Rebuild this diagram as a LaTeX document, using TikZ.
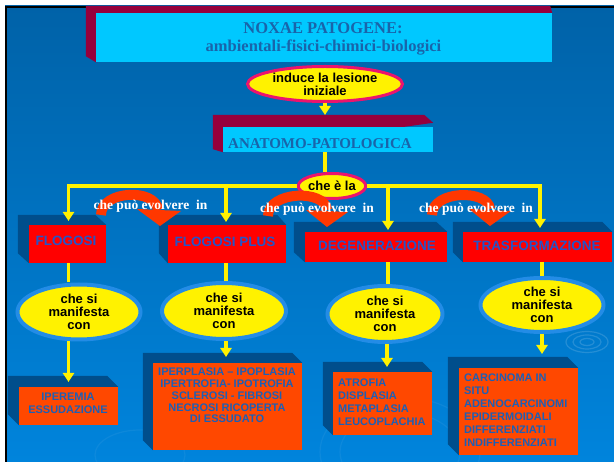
\documentclass[tikz,border=0pt]{standalone}
\usepackage{fontspec}
\setmainfont{Liberation Serif}
\newfontfamily\arialf{Liberation Sans}
\usetikzlibrary{arrows.meta,shapes.geometric}
\pgfdeclarelayer{bg}
\pgfdeclarelayer{background}
\pgfsetlayers{bg,background,main}
\definecolor{bgtop}{RGB}{0,98,168}
\definecolor{bgbot}{RGB}{0,132,220}
\definecolor{maroon3d}{RGB}{150,0,60}
\definecolor{cyanbox}{RGB}{0,200,255}
\definecolor{titletext}{RGB}{25,100,170}
\definecolor{shadowblue}{RGB}{0,78,140}
\definecolor{boxred}{RGB}{255,0,0}
\definecolor{boxorange}{RGB}{255,72,0}
\definecolor{boxtext}{RGB}{35,85,200}
\definecolor{lowtext}{RGB}{30,95,180}
\definecolor{crimsonb}{RGB}{235,20,110}
\definecolor{ellblue}{RGB}{35,140,230}
\definecolor{arcred}{RGB}{255,55,0}
\begin{document}
\begin{tikzpicture}[x=1pt,y=-1pt,
  yline/.style={draw=yellow, line width=3.5pt},
  yarr/.style={yline, -{Triangle[width=11pt,length=9pt]}},
  cyanrect/.style={rectangle, fill=cyanbox, inner sep=0pt},
  titletxt/.style={font=\bfseries\fontsize{16.5}{20}\selectfont, text=titletext, inner sep=0pt},
  topbox/.style={rectangle, fill=boxred, inner sep=0pt},
  lowbox/.style={rectangle, fill=boxorange, inner sep=0pt},
  toptxt/.style={font=\arialf\bfseries\fontsize{13.5}{14}\selectfont, text=boxtext, inner sep=0pt},
  lowtxt/.style={font=\arialf\bfseries\fontsize{11}{13}\selectfont, text=lowtext, inner sep=0pt},
  yell/.style={ellipse, fill=yellow, inner sep=0pt, align=center, text=black,
    font=\arialf\bfseries\fontsize{13}{12.8}\selectfont},
  pinkell/.style={yell, draw=crimsonb, line width=3pt},
  blueell/.style={yell, draw=ellblue, line width=4pt},
  evtxt/.style={font=\bfseries\fontsize{13.5}{14}\selectfont, text=white, inner sep=0pt},
  arcband/.style={draw=arcred, line width=10pt},
  archead/.style={fill=arcred},
  ripple/.style={draw=white, opacity=0.14, line width=1.2pt}
]
\useasboundingbox (0,0) rectangle (614,462);

% ---------- background ----------
\begin{pgfonlayer}{bg}
\fill[white] (0,0) rectangle (614,462);
\shade[top color=bgtop, bottom color=bgbot] (5,6) rectangle (614,462);
\draw[black, line width=2pt] (6,462) -- (6,7) -- (614,7);
\draw[ripple] (587,342) ellipse (7 and 3.5);
\draw[ripple] (587,342) ellipse (14 and 7);
\draw[ripple] (587,342) ellipse (21 and 10.5);
\draw[ripple, opacity=0.05] (400,452) ellipse (60 and 40);
\draw[ripple, opacity=0.05] (400,452) ellipse (80 and 55);
\draw[ripple, opacity=0.05] (140,455) ellipse (45 and 25);
\end{pgfonlayer}

% ---------- title ----------
\node[cyanrect, minimum width=456pt, minimum height=49pt] (title) at (324,37.5) {};
\node[titletxt] (titleA) at (323,28) {NOXAE PATOGENE:};
\node[titletxt] (titleB) at (323.5,47.5) {ambientali-fisici-chimici-biologici};

\node[pinkell, minimum width=155pt, minimum height=35pt] (induce) at (325,84)
  {induce la lesione\\iniziale};

\node[cyanrect, minimum width=210pt, minimum height=25pt] (ana) at (328,139.5) {};
\node[titletxt, font=\bfseries\fontsize{15}{18}\selectfont] (anaT) at (320,144) {ANATOMO-PATOLOGICA};

\node[pinkell, minimum width=61pt, minimum height=25pt] (che) at (332,186) {che è la};

% ---------- first row boxes ----------
\node[topbox, minimum width=77pt, minimum height=38pt] (b1) at (67.5,244) {};
\node[topbox, minimum width=118pt, minimum height=38pt] (b2) at (227,244) {};
\node[topbox, minimum width=142pt, minimum height=30pt] (b3) at (376,247) {};
\node[topbox, minimum width=149pt, minimum height=30pt] (b4) at (537.5,247) {};
\node[toptxt] (b1t) at (66,241) {FLOGOSI};
\node[toptxt] (b2t) at (225,242) {FLOGOSI PLUS};
\node[toptxt] (b3t) at (377,246) {DEGENERAZIONE};
\node[toptxt] (b4t) at (537,246) {TRASFORMAZIONE};

% ---------- ellipses ----------
\node[blueell, minimum width=123pt, minimum height=55pt] (e1) at (79,312) {che si\\manifesta\\con};
\node[blueell, minimum width=124pt, minimum height=56pt] (e2) at (224,311) {che si\\manifesta\\con};
\node[blueell, minimum width=115pt, minimum height=56pt] (e3) at (385,314) {che si\\manifesta\\con};
\node[blueell, minimum width=123pt, minimum height=54pt] (e4) at (542,305) {che si\\manifesta\\con};

% ---------- bottom boxes ----------
\node[lowbox, minimum width=99pt, minimum height=38pt] (B1) at (68.5,406) {};
\node[lowbox, minimum width=149pt, minimum height=87pt] (B2) at (227.5,406.5) {};
\node[lowbox, minimum width=99pt, minimum height=63pt] (B3) at (382.5,403.5) {};
\node[lowbox, minimum width=119pt, minimum height=87pt] (B4) at (518.5,411.5) {};
\node[lowtxt, align=center] (B1t) at (68,403.5) {IPEREMIA\\ESSUDAZIONE};
\node[lowtxt, align=center, font=\arialf\bfseries\fontsize{11}{11.75}\selectfont] (B2t) at (227,395.5)
  {IPERPLASIA – IPOPLASIA\\IPERTROFIA- IPOTROFIA\\SCLEROSI - FIBROSI\\NECROSI RICOPERTA\\DI ESSUDATO};
\node[lowtxt, align=left, anchor=west] (B3t) at (338,402.5) {ATROFIA\\DISPLASIA\\METAPLASIA\\LEUCOPLACHIA};
\node[lowtxt, align=left, anchor=west] (B4t) at (464,410.5)
  {CARCINOMA IN\\SITU\\ADENOCARCINOMI\\EPIDERMOIDALI\\DIFFERENZIATI\\INDIFFERENZIATI};

% ---------- 3D backs ----------
\begin{pgfonlayer}{background}
\fill[maroon3d] ([shift={(-10,-7)}]title.north west) -- ([shift={(-2,-7)}]title.north east)
  -- (title.north east) -- (title.south west) -- ([shift={(-10,-6)}]title.south west) -- cycle;
\fill[maroon3d] ([shift={(-10,-12)}]ana.north west) -- ([shift={(-9,-12)}]ana.north east)
  -- ([shift={(0,-4)}]ana.north east) -- (ana.south west) -- ([shift={(-10,-3)}]ana.south west) -- cycle;
\foreach \n/\dx/\dy in {b1/11/10, b2/9/10, b3/11/10, b4/10/10, B1/11/11, B2/10/10, B3/10/10, B4/11/11} {
  \fill[shadowblue] ([shift={(-\dx,-\dy)}]\n.north west) -- ([shift={(-\dx,-\dy)}]\n.north east)
    -- (\n.north east) -- (\n.south west) -- ([shift={(-\dx,-\dy)}]\n.south west) -- cycle;
}
\end{pgfonlayer}

% ---------- tip coordinates ----------
\coordinate (anaTop) at (325,115);
\coordinate (t1) at (68.5,221);
\coordinate (t2) at (226,222);
\coordinate (t3) at (388,230);
\coordinate (t4) at (540,228);
\coordinate (c1) at (68.5,382);
\coordinate (c2) at (226,357);
\coordinate (c3) at (387,367);
\coordinate (c4) at (542,354);

% ---------- connectors ----------
\draw[yarr] (induce.south -| anaTop) -- (anaTop);
\draw[yline] (ana.south -| anaTop) -- (che.north -| anaTop);
\draw[yarr] (che.west) -| (t1);
\draw[yarr] (che.east) -| (t4);
\draw[yarr] (che.west -| t2) -- (t2);
\draw[yarr] (che.east -| t3) -- (t3);
\draw[yline] (b1.south -| c1) -- (e1.north -| c1);
\draw[yline] (b2.south -| c2) -- (e2.north -| c2);
\draw[yline] (b3.south -| t3) -- (e3.north -| t3);
\draw[yline] (b4.south -| c4) -- (e4.north -| c4);
\draw[yarr] (e1.south -| c1) -- (c1);
\draw[yarr] (e2.south -| c2) -- (c2);
\draw[yarr] (e3.south -| c3) -- (c3);
\draw[yarr] (e4.south -| c4) -- (c4);

% ---------- curved "evolve" arrows ----------
\draw[arcband] (101,215) .. controls (101,190) and (156,188) .. (158,210);
\fill[archead] (137,209) -- (181,211) -- (160,226) -- cycle;
\draw[arcband] (268,216) .. controls (268,191) and (325,189) .. (327,210);
\fill[archead] (306,210) -- (348,212) -- (327,227) -- cycle;
\draw[arcband] (432,215) .. controls (432,190) and (488,189) .. (490,209);
\fill[archead] (469,209) -- (511,211) -- (490,226) -- cycle;

\node[evtxt] (ev1) at (150.5,206.5) {che può evolvere~~in};
\node[evtxt] (ev2) at (317,209) {che può evolvere~~in};
\node[evtxt] (ev3) at (476,209) {che può evolvere~~in};
\end{tikzpicture}
\end{document}
